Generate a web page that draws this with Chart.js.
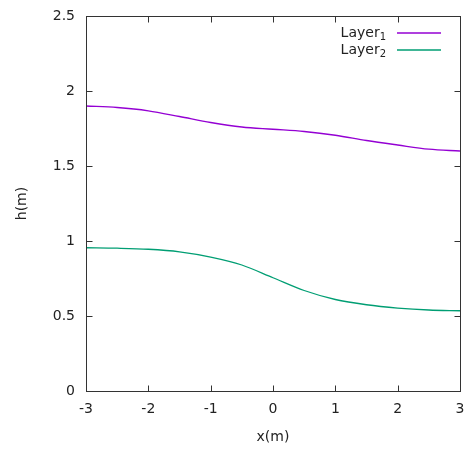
<!DOCTYPE html>
<html>
<head>
<meta charset="utf-8">
<script src="https://cdn.jsdelivr.net/npm/chart.js@4"></script>
<style>
  body { margin: 0; background: #fff; }
  canvas { display: block; }
</style>
</head>
<body>
<canvas id="chart" width="469" height="450"></canvas>
<script>
// values
const xs = [-3, -2.5, -2, -1.5, -1, -0.5, 0, 0.5, 1, 1.5, 2, 2.5, 3]
const layer1 = [1.90, 1.89, 1.868, 1.83, 1.79, 1.76, 1.745, 1.73, 1.705, 1.67, 1.64, 1.612, 1.60]
const layer2 = [0.955, 0.952, 0.945, 0.928, 0.893, 0.84, 0.755, 0.67, 0.61, 0.575, 0.553, 0.54, 0.535]
const seriesNames = ['Layer', 'Layer']
const seriesSubs = ['1', '2']
const seriesColors = ['#9400d3', '#009e73']
const xTicks = [-3, -2, -1, 0, 1, 2, 3]
const yTicks = [0, 0.5, 1, 1.5, 2, 2.5]

const FONT = '"DejaVu Sans", sans-serif'

const toPoints = (vals) => xs.map((x, i) => ({ x: x, y: vals[i] }))

// gnuplot-style frame, inward ticks and legend
const framePlugin = {
  id: 'frame',
  afterDraw(chart) {
    const { ctx, chartArea: a, scales } = chart
    ctx.save()
    ctx.strokeStyle = '#333'
    ctx.lineWidth = 1
    const L = Math.round(a.left) + 0.5
    const R = Math.round(a.right) + 0.5
    const T = Math.round(a.top) + 0.5
    const B = Math.round(a.bottom) + 0.5
    ctx.strokeRect(L, T, R - L, B - T)
    ctx.beginPath()
    xTicks.forEach((v) => {
      const px = Math.round(scales.x.getPixelForValue(v)) + 0.5
      ctx.moveTo(px, B); ctx.lineTo(px, B - 6)
      ctx.moveTo(px, T); ctx.lineTo(px, T + 6)
    })
    yTicks.forEach((v) => {
      const py = Math.round(scales.y.getPixelForValue(v)) + 0.5
      ctx.moveTo(L, py); ctx.lineTo(L + 6, py)
      ctx.moveTo(R, py); ctx.lineTo(R - 6, py)
    })
    ctx.stroke()

    // legend
    seriesNames.forEach((name, i) => {
      const y = a.top + 17 + i * 17
      ctx.fillStyle = '#222'
      ctx.textBaseline = 'middle'
      ctx.font = '10px ' + FONT
      const subW = ctx.measureText(seriesSubs[i]).width
      const textRight = a.right - 74
      ctx.textAlign = 'left'
      ctx.fillText(seriesSubs[i], textRight - subW, y + 4)
      ctx.font = '14px ' + FONT
      ctx.textAlign = 'right'
      ctx.fillText(name, textRight - subW, y)
      ctx.strokeStyle = seriesColors[i]
      ctx.lineWidth = 1.3
      ctx.beginPath()
      ctx.moveTo(a.right - 63, y)
      ctx.lineTo(a.right - 19, y)
      ctx.stroke()
    })
    ctx.restore()
  },
}

new Chart(document.getElementById('chart').getContext('2d'), {
  type: 'line',
  data: {
    datasets: [layer1, layer2].map((vals, i) => ({
      label: seriesNames[i] + seriesSubs[i],
      data: toPoints(vals),
      borderColor: seriesColors[i],
      borderWidth: 1.3,
      fill: false,
      pointRadius: 0,
      cubicInterpolationMode: 'monotone',
    })),
  },
  options: {
    responsive: false,
    animation: false,
    layout: { padding: { top: 16, right: 9, left: 0, bottom: 0 } },
    plugins: {
      legend: { display: false },
      tooltip: { enabled: false },
    },
    scales: {
      x: {
        type: 'linear',
        min: -3,
        max: 3,
        afterBuildTicks: (s) => { s.ticks = xTicks.map((v) => ({ value: v })) },
        afterFit: (s) => { s.height = 59; s.paddingLeft = 0; s.paddingRight = 0 },
        grid: { display: false, drawTicks: false },
        border: { display: false },
        ticks: { padding: 10, color: '#222', font: { family: FONT, size: 14 }, callback: (v) => String(v) },
        title: {
          display: true,
          text: 'x(m)',
          color: '#222',
          font: { family: FONT, size: 14 },
          padding: { top: 0, bottom: 4 },
        },
      },
      y: {
        type: 'linear',
        min: 0,
        max: 2.5,
        afterBuildTicks: (s) => { s.ticks = yTicks.map((v) => ({ value: v })) },
        afterFit: (s) => { s.width = 86; s.paddingTop = 0; s.paddingBottom = 0 },
        grid: { display: false, drawTicks: false },
        border: { display: false },
        ticks: { padding: 11, color: '#222', font: { family: FONT, size: 14 }, callback: (v) => String(v) },
        title: {
          display: true,
          text: 'h(m)',
          color: '#222',
          font: { family: FONT, size: 14 },
          padding: { top: 14, bottom: 0 },
        },
      },
    },
  },
  plugins: [framePlugin],
})
</script>
</body>
</html>
